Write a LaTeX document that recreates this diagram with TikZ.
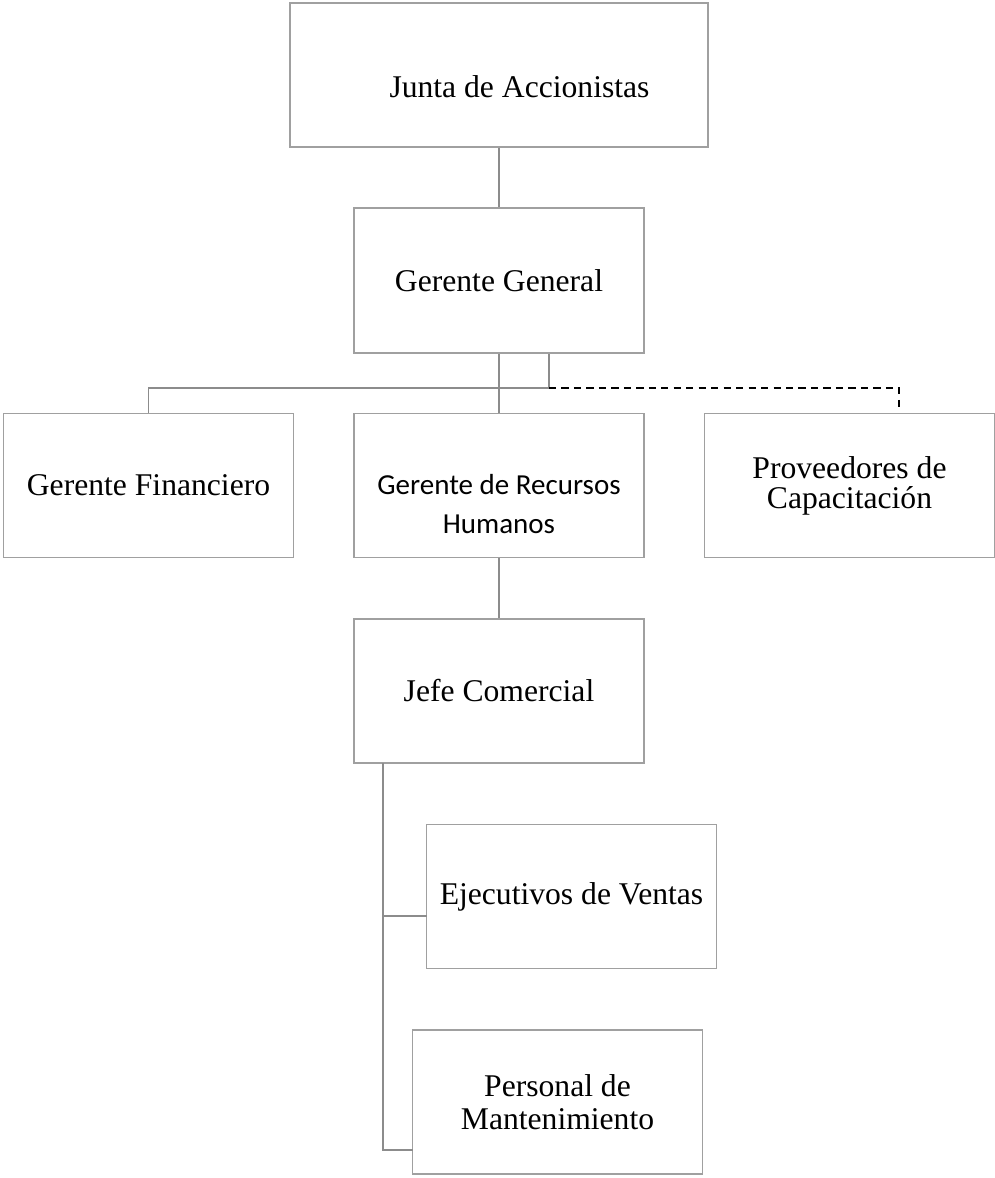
\documentclass[tikz,border=0pt]{standalone}
\usepackage{fontspec}
\setmainfont{Liberation Serif}
\newfontfamily\calibri{Carlito}
\definecolor{frame}{HTML}{A0A0A0}
\definecolor{wire}{HTML}{8C8C8C}

\begin{document}
\begin{tikzpicture}[
  x=0.02cm, y=-0.02cm,
  post/.style={draw=frame, fill=white, line width=0.8pt,
               minimum width=5.8cm, minimum height=2.88cm,
               align=center, inner sep=0pt,
               font=\fontsize{18}{17}\selectfont},
  wide/.style={post, minimum width=8.36cm},
  link/.style={draw=wire, line width=1.1pt},
  outside/.style={draw=black, line width=1.1pt,
                  dash pattern=on 4.1pt off 3pt},
]
\useasboundingbox (0,0) rectangle (995,1178);

\node[wide, text height=0.9cm, text depth=0.02cm] (junta) at (499,75)
  {\hspace*{0.82cm}Junta de Accionistas};
\node[post, minimum height=2.9cm] (gg) at (499,280.5) {Gerente General};

\node[post] (fin) at (148.5,485.5) {Gerente Financiero};
\node[post, font=\calibri\fontsize{16.5}{22}\selectfont,
      text height=1.94cm, text depth=0.04cm] (rrhh) at (499,485.5)
  {Gerente de Recursos\\ Humanos};
\node[post] (prov) at (849.5,485.5) {Proveedores de\\ Capacitación};

\node[post] (jefe) at (499,691) {Jefe Comercial};
\node[post] (ejec) at (571.5,896.5) {Ejecutivos de Ventas};
\node[post, font=\fontsize{18}{19}\selectfont] (pers) at (557.5,1102)
  {Personal de\\ Mantenimiento};

% hook points of the connectors
\coordinate (split) at (549,388);
\coordinate (provtop) at (899,408);
\coordinate (spine) at (383,763);
\coordinate (ejecin) at (427,916);
\coordinate (persin) at (413,1150);

\draw[link] (junta) -- (gg);
\draw[link] (gg) -- (rrhh);
\draw[link] (fin.north) |- (split) -- (split |- gg.south);
\draw[outside] (split) -| (provtop);
\draw[link] (rrhh) -- (jefe);

\draw[link] (spine) |- (persin);
\draw[link] (spine |- ejecin) -- (ejecin);
\end{tikzpicture}
\end{document}
